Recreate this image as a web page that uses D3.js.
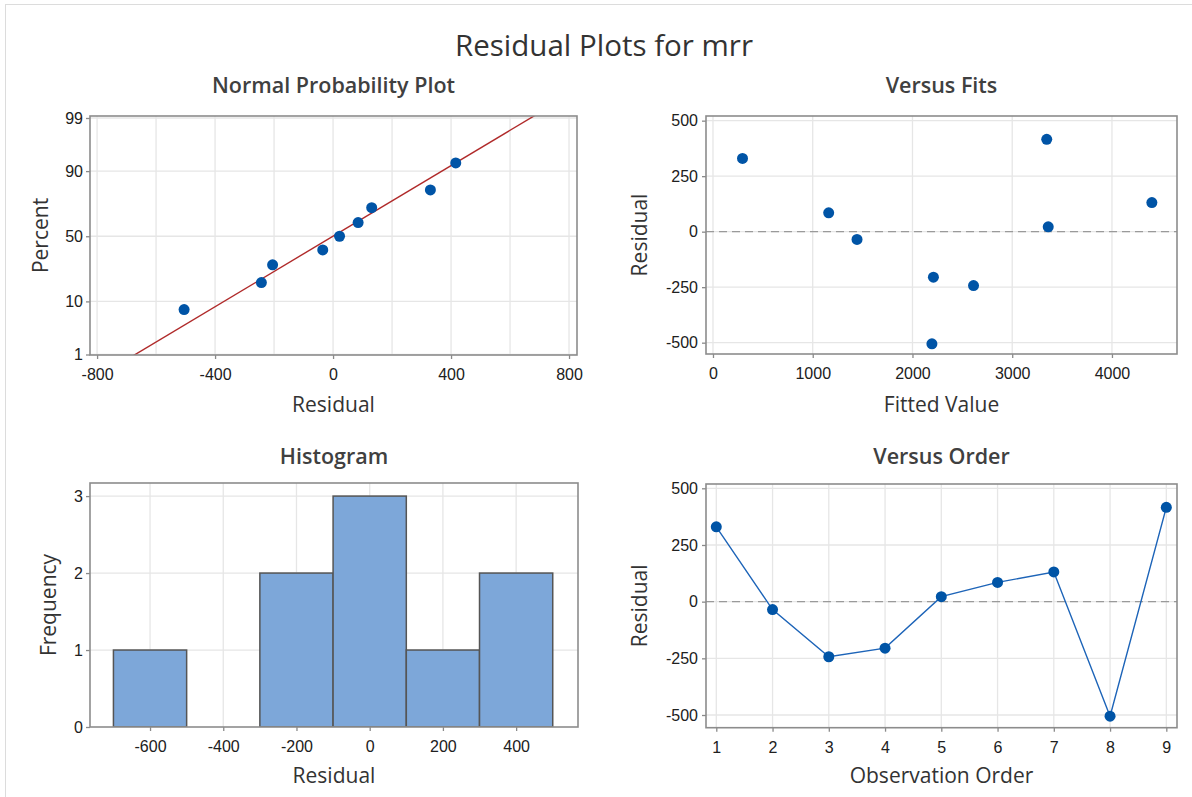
<!doctype html>
<html>
<head>
<meta charset="utf-8" />
<title>Residual Plots for mrr</title>
<style>
  html,body{margin:0;background:#fff}
  svg{display:block;font-family:"Open Sans","Noto Sans",sans-serif}
  .tick text{font-size:16px;fill:#202020}
  .tick line{stroke:#8a8a8a;stroke-width:1.3}
  .domain{display:none}
  .grid line{stroke:#e6e6e6;stroke-width:1.3}
  .frame{fill:none;stroke:#8c8c8c;stroke-width:1.6}
  .ttl{font-size:29.5px;fill:#333;text-anchor:middle}
  .sub{font-size:21.5px;font-weight:600;fill:#404040;text-anchor:middle}
  .lab{font-size:21px;fill:#333;text-anchor:middle}
</style>
</head>
<body>
<script src="https://cdn.jsdelivr.net/npm/d3@7"></script>
<script>
// ---- data ----
const observation = [1, 2, 3, 4, 5, 6, 7, 8, 9];
const fitted      = [296, 1444, 2612, 2210, 3361, 1160, 4400, 2195, 3346];
const residuals   = [330, -35, -243, -205, 22, 85, 131, -505, 416];

const npXTicks   = [-800, -400, 0, 400, 800];
const npXGrid    = [-800, -600, -400, -200, 0, 200, 400, 600, 800];
const npYTicks   = [1, 10, 50, 90, 99];
const fitXTicks  = [0, 1000, 2000, 3000, 4000];
const resTicks   = [-500, -250, 0, 250, 500];
const histXTicks = [-600, -400, -200, 0, 200, 400];
const histYTicks = [0, 1, 2, 3];
const binEdges   = [-700, -500, -300, -100, 100, 300, 500];

const W = 1192, H = 797;
const blue = "#0054a6";

const svg = d3.select("body").append("svg").attr("width", W).attr("height", H);

// outer border (top + left)
svg.append("line").attr("x1",5).attr("x2",W).attr("y1",4.5).attr("y2",4.5).attr("stroke","#dcdcdc");
svg.append("line").attr("x1",5.5).attr("x2",5.5).attr("y1",4).attr("y2",H).attr("stroke","#dcdcdc");

svg.append("text").attr("class","ttl").attr("x",604).attr("y",56).text("Residual Plots for mrr");

// inverse standard normal (Acklam)
function qnorm(p){
  const a=[-39.69683028665376,220.9460984245205,-275.9285104469687,138.3577518672690,-30.66479806614716,2.506628277459239],
        b=[-54.47609879822406,161.5858368580409,-155.6989798598866,66.80131188771972,-13.28068155288572],
        c=[-0.007784894002430293,-0.3223964580411365,-2.400758277161838,-2.549732539343734,4.374664141464968,2.938163982698783],
        d=[0.007784695709041462,0.3224671290700398,2.445134137142996,3.754408661907416];
  const pl=0.02425;
  let q,r;
  if(p<pl){q=Math.sqrt(-2*Math.log(p));return (((((c[0]*q+c[1])*q+c[2])*q+c[3])*q+c[4])*q+c[5])/((((d[0]*q+d[1])*q+d[2])*q+d[3])*q+1);}
  if(p>1-pl){q=Math.sqrt(-2*Math.log(1-p));return -(((((c[0]*q+c[1])*q+c[2])*q+c[3])*q+c[4])*q+c[5])/((((d[0]*q+d[1])*q+d[2])*q+d[3])*q+1);}
  q=p-0.5;r=q*q;
  return (((((a[0]*r+a[1])*r+a[2])*r+a[3])*r+a[4])*r+a[5])*q/(((((b[0]*r+b[1])*r+b[2])*r+b[3])*r+b[4])*r+1);
}

// generic panel helper
function panel(o){
  const g = svg.append("g");
  const [x0,x1] = o.x.range(), [y1,y0] = o.y.range();
  const top = o.top ?? y0, bot = o.bot ?? y1;
  // grid
  g.append("g").attr("class","grid").selectAll("line").data(o.xGrid).join("line")
    .attr("x1",d=>o.x(d)).attr("x2",d=>o.x(d)).attr("y1",top).attr("y2",bot);
  g.append("g").attr("class","grid").selectAll("line").data(o.yGrid).join("line")
    .attr("y1",d=>o.yv(d)).attr("y2",d=>o.yv(d)).attr("x1",x0).attr("x2",x1);
  // axes
  g.append("g").attr("transform",`translate(0,${bot})`)
    .call(d3.axisBottom(o.x).tickValues(o.xTicks).tickSize(4).tickPadding(10).tickFormat(d=>String(d)));
  const ya = d3.axisLeft(o.y).tickValues(o.yTicks.map(o.yMap || (d=>d))).tickSize(4).tickPadding(o.yPad||3)
    .tickFormat((d,i)=>String(o.yTicks[i]));
  g.append("g").attr("transform",`translate(${x0},0)`).call(ya);
  g.selectAll(".tick text").attr("fill","#202020");
  // titles
  const cx = (x0+x1)/2;
  svg.append("text").attr("class","sub").attr("x",cx).attr("y",o.subY).text(o.title);
  svg.append("text").attr("class","lab").attr("x",cx).attr("y",o.xLabY).text(o.xLab);
  svg.append("text").attr("class","lab")
    .attr("transform",`translate(${o.yLabX},${(top+bot)/2}) rotate(-90)`).text(o.yLab);
  // clip + plot layer
  const id = "clip"+Math.round(x0)+"_"+Math.round(top);
  svg.append("clipPath").attr("id",id).append("rect")
    .attr("x",x0).attr("y",top).attr("width",x1-x0).attr("height",bot-top);
  const plot = svg.append("g").attr("clip-path",`url(#${id})`);
  const frame = () => svg.append("rect").attr("class","frame")
    .attr("x",x0).attr("y",top).attr("width",x1-x0).attr("height",bot-top);
  return {plot, frame, top, bot};
}

// ---- Normal probability plot ----
{
  const x = d3.scaleLinear().domain([-824, 827]).range([90, 577]);
  const y = d3.scaleLinear().domain([qnorm(0.01), qnorm(0.99)]).range([354.5, 118]);
  const p = panel({x, y, yv:v=>y(qnorm(v/100)), yMap:v=>qnorm(v/100), top:116, bot:355,
    xTicks:npXTicks, xGrid:npXGrid, yTicks:npYTicks, yGrid:npYTicks,
    title:"Normal Probability Plot", subY:93, xLab:"Residual", xLabY:412, yLab:"Percent", yLabX:48});
  const n = residuals.length;
  const sorted = residuals.slice().sort(d3.ascending);
  const pts = sorted.map((r,i)=>({r, z:qnorm((i+1-0.3)/(n+0.4))}));
  const mu = d3.mean(residuals), sd = d3.deviation(residuals);
  const zr = [qnorm(0.005), qnorm(0.995)];
  p.plot.append("line")
    .attr("x1",x(mu+sd*zr[0])).attr("y1",y(zr[0]))
    .attr("x2",x(mu+sd*zr[1])).attr("y2",y(zr[1]))
    .attr("stroke","#b02a2a").attr("stroke-width",1.4);
  p.plot.selectAll("circle").data(pts).join("circle")
    .attr("cx",d=>x(d.r)).attr("cy",d=>y(d.z)).attr("r",5.5).attr("fill",blue);
  p.frame();
}

// ---- Versus Fits ----
{
  const x = d3.scaleLinear().domain([-70, 4652]).range([706, 1177]);
  const y = d3.scaleLinear().domain([-551, 521]).range([354, 116]);
  const p = panel({x, y, yv:y, xTicks:fitXTicks, xGrid:fitXTicks, yTicks:resTicks, yGrid:resTicks, yPad:4,
    title:"Versus Fits", subY:93, xLab:"Fitted Value", xLabY:412, yLab:"Residual", yLabX:647});
  p.plot.append("line").attr("x1",706).attr("x2",1177).attr("y1",y(0)).attr("y2",y(0))
    .attr("stroke","#9a9a9a").attr("stroke-width",1.3).attr("stroke-dasharray","8,5");
  p.plot.selectAll("circle").data(fitted).join("circle")
    .attr("cx",d=>x(d)).attr("cy",(d,i)=>y(residuals[i])).attr("r",5.5).attr("fill",blue);
  p.frame();
}

// ---- Histogram ----
{
  const x = d3.scaleLinear().domain([-764, 569]).range([90, 578]);
  const y = d3.scaleLinear().domain([0, 3.17]).range([727, 483]);
  const p = panel({x, y, yv:y, xTicks:histXTicks, xGrid:histXTicks, yTicks:histYTicks, yGrid:histYTicks.slice(1),
    title:"Histogram", subY:464, xLab:"Residual", xLabY:783, yLab:"Frequency", yLabX:56});
  const bins = d3.bin().domain([binEdges[0], binEdges[binEdges.length-1]]).thresholds(binEdges.slice(1,-1))(residuals);
  p.plot.selectAll("rect").data(bins.filter(b=>b.length)).join("rect")
    .attr("x",b=>x(b.x0)).attr("width",b=>x(b.x1)-x(b.x0))
    .attr("y",b=>y(b.length)).attr("height",b=>y(0)-y(b.length))
    .attr("fill","#7da7d9").attr("stroke","#555").attr("stroke-width",1.5);
  p.frame();
}

// ---- Versus Order ----
{
  const x = d3.scaleLinear().domain([0.817, 9.19]).range([706, 1177]);
  const y = d3.scaleLinear().domain([-556, 519]).range([727.7, 484]);
  const p = panel({x, y, yv:y, xTicks:observation, xGrid:observation, yTicks:resTicks, yGrid:resTicks, yPad:4,
    title:"Versus Order", subY:464, xLab:"Observation Order", xLabY:783, yLab:"Residual", yLabX:647});
  p.plot.append("line").attr("x1",706).attr("x2",1177).attr("y1",y(0)).attr("y2",y(0))
    .attr("stroke","#9a9a9a").attr("stroke-width",1.3).attr("stroke-dasharray","8,5");
  const pts = observation.map((o,i)=>[x(o), y(residuals[i])]);
  p.plot.append("path").attr("d",d3.line()(pts)).attr("fill","none")
    .attr("stroke","#1d64b8").attr("stroke-width",1.4);
  p.plot.selectAll("circle").data(pts).join("circle")
    .attr("cx",d=>d[0]).attr("cy",d=>d[1]).attr("r",5.5).attr("fill",blue);
  p.frame();
}
</script>
</body>
</html>
